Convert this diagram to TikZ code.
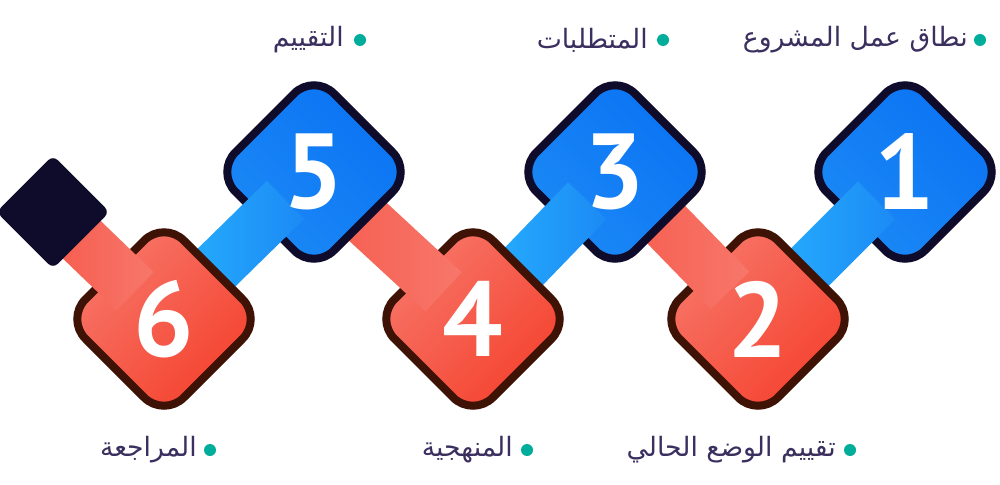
\documentclass[tikz,border=0pt]{standalone}
\usepackage{fontspec}
\usetikzlibrary{calc,shapes.geometric}
\TeXXeTstate=1
\newfontfamily\arabicfont[Script=Arabic]{DejaVu Sans}
\newfontfamily\numfont{PT Sans}

\definecolor{navyline}{HTML}{0F0B2B}
\definecolor{brownline}{HTML}{3F1206}
\definecolor{bluelight}{HTML}{1C8AF5}
\definecolor{bluedark}{HTML}{0A72F4}
\definecolor{cyanbar}{HTML}{28B7FF}
\definecolor{salmon}{HTML}{F7776A}
\definecolor{redfill}{HTML}{F5402C}
\definecolor{redbarend}{HTML}{F5584A}
\definecolor{textcol}{HTML}{3A2F5E}
\definecolor{teal}{HTML}{00AC9A}

\tikzset{
  blueitem/.style={diamond, aspect=1, minimum width=150pt, minimum height=150pt,
    inner sep=0pt, rounded corners=21pt, draw=navyline, line width=6pt,
    left color=bluelight, right color=bluedark, shading angle=135},
  reditem/.style={diamond, aspect=1, minimum width=150pt, minimum height=150pt,
    inner sep=0pt, rounded corners=21pt, draw=brownline, line width=6pt,
    left color=salmon, right color=redfill, shading angle=45},
  bluebar/.style={left color=cyanbar, right color=bluelight},
  redbar/.style={left color=redbarend, right color=salmon},
  endbox/.style={diamond, aspect=1, minimum width=85pt, minimum height=85pt,
    inner sep=0pt, rounded corners=5pt, fill=navyline},
  num/.style={text=white, font=\numfont\bfseries\fontsize{80pt}{80pt}\selectfont, inner sep=0pt},
  lbl/.style={text=textcol, font=\arabicfont\fontsize{20pt}{24pt}\selectfont, inner sep=0pt, anchor=east},
  dot/.style={circle, fill=teal, minimum size=9pt, inner sep=0pt}
}

\begin{document}
\begin{tikzpicture}[x=0.75pt,y=-0.75pt]
	\useasboundingbox (0,0) rectangle (1000,485);
	
	\coordinate (p1) at (905,172);
	\coordinate (p2) at (758,319);
	\coordinate (p3) at (615,172);
	\coordinate (p4) at (473,319);
	\coordinate (p5) at (314,172);
	\coordinate (p6) at (164,319);
	\coordinate (pd) at (53,212);
	
	% right to left, every bar lies on the step to its right
	\foreach \i/\j/\dsty/\bsty in {1/2/blueitem/bluebar, 2/3/reditem/redbar, 3/4/blueitem/bluebar,
		4/5/reditem/redbar, 5/6/blueitem/bluebar, 6/d/reditem/redbar}{
		\node[\dsty] (s\i) at (p\i) {};
		\coordinate (e\i) at ($(s\i.center)!30pt!(p\j)$);
		\shade[\bsty] ($(p\j)!20pt!90:(e\i)$) -- ($(e\i)!20pt!-90:(p\j)$)
			-- ($(e\i)!20pt!90:(p\j)$) -- ($(p\j)!20pt!-90:(e\i)$) -- cycle;
		\node[num] (n\i) at (s\i) {\i};
	}
	\node[endbox] (sd) at (pd) {};
	
	% labels
	\node[dot] (b1) at (980,40) {};
	\node[lbl] (t1) at (968,40) {\beginR نطاق عمل المشروع\endR};
	\node[dot] (b3) at (663,40) {};
	\node[lbl] (t3) at (648,40) {\beginR المتطلبات\endR};
	\node[dot] (b5) at (360,40) {};
	\node[lbl] (t5) at (344,40) {\beginR التقييم\endR};
	
	\node[dot] (b2) at (850,450) {};
	\node[lbl] (t2) at (836,450) {\beginR تقييم الوضع الحالي\endR};
	\node[dot] (b4) at (527,450) {};
	\node[lbl] (t4) at (513,450) {\beginR المنهجية\endR};
	\node[dot] (b6) at (210,450) {};
	\node[lbl] (t6) at (197,450) {\beginR المراجعة\endR};
\end{tikzpicture}
\end{document}
